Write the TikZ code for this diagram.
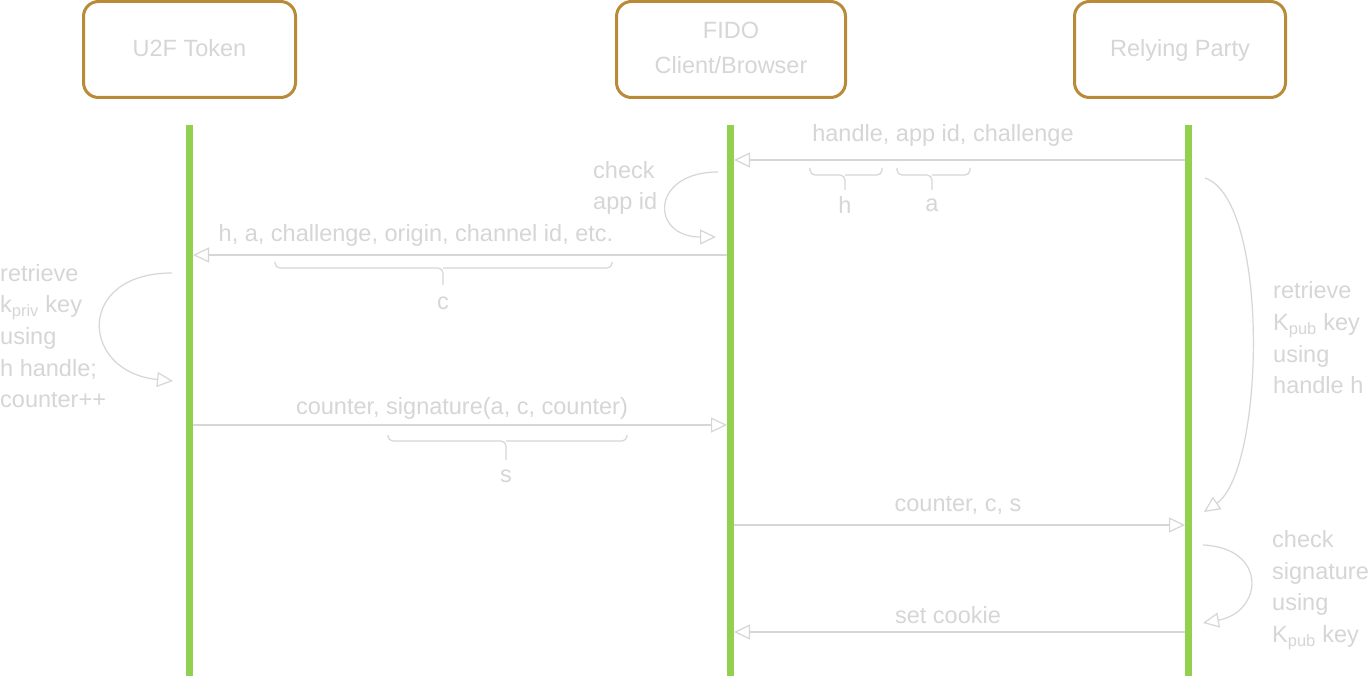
\documentclass[tikz,border=0pt]{standalone}
\usepackage{fontspec}
\setmainfont{Liberation Sans}
\usetikzlibrary{arrows.meta}
\definecolor{gold}{RGB}{185,139,56}
\definecolor{life}{RGB}{146,208,80}
\colorlet{ink}{black!16}
\begin{document}
\begin{tikzpicture}[x=1pt,y=-1pt,
  actor/.style={draw=gold, line width=3pt, rounded corners=15pt, fill=white, minimum height=96pt, align=center, font=\fontsize{23.5}{35}\selectfont, text=ink, inner sep=0pt, text depth=3pt},
  lifeline/.style={draw=life, line width=6.5pt},
  msg/.style={draw=ink, line width=1.2pt, -{Triangle[open, length=16pt, width=15pt, fill=white]}},
  lbl/.style={text=ink, font=\fontsize{23.5}{31.7}\selectfont, inner sep=0pt},
  brc/.style={draw=ink, line width=1.2pt, rounded corners=5pt}
]
\useasboundingbox[fill=white] (0,0) rectangle (1368,676);

% actors
\node[actor, minimum width=212pt] (u2f) at (189.5,49.5) {U2F Token};
\node[actor, minimum width=229pt] (fido) at (731,49.5) {FIDO\\Client/Browser};
\node[actor, minimum width=211pt] (rp) at (1180,49.5) {Relying Party};

% lifelines
\coordinate (ut) at (189.5,125); \coordinate (ub0) at (189.5,676);
\coordinate (ft) at (730.5,125); \coordinate (fb0) at (730.5,676);
\coordinate (rt) at (1188.5,125); \coordinate (rb0) at (1188.5,676);
\draw[lifeline] (ut) -- (ub0);
\draw[lifeline] (ft) -- (fb0);
\draw[lifeline] (rt) -- (rb0);

% message 1
\coordinate (r1) at (1185,160); \coordinate (f1) at (734,160);
\draw[msg] (r1) -- (f1);
\node[lbl] (m1) at (943,135) {handle, app id, challenge};
\draw[brc] (810,168) |- (845,175) -- (845,190);
\draw[brc] (882,168) |- (845,175);
\node[lbl] (h) at (845,205) {h};
\draw[brc] (897,168) |- (932,175) -- (932,190);
\draw[brc] (970,168) |- (932,175);
\node[lbl] (a) at (932,205) {a};

% check app id loop
\coordinate (fa) at (718,172); \coordinate (fb) at (716,237);
\draw[msg] (fa) .. controls (650,172) and (650,237) .. (fb);
\node[lbl, align=left, anchor=west] (fl) at (593,188) {check\\app id};

% message 3
\coordinate (f3) at (727,255); \coordinate (u3) at (193,255);
\draw[msg] (f3) -- (u3);
\node[lbl] (m3) at (416,235) {h, a, challenge, origin, channel id, etc.};
\draw[brc] (275,262) |- (443,268) -- (443,285);
\draw[brc] (612,262) |- (443,268);
\node[lbl] (c) at (443,303) {c};

% retrieve loop at token
\coordinate (ua) at (172,273); \coordinate (ub) at (173,381);
\draw[msg] (ua) .. controls (75,273) and (80,372) .. (ub);
\node[lbl, align=left, anchor=west] (ul) at (0,336) {retrieve\\k\textsubscript{priv} key\\using\\h handle;\\counter++};

% message 5
\coordinate (u5) at (193,425); \coordinate (f5) at (727,425);
\draw[msg] (u5) -- (f5);
\node[lbl] (m5) at (462,408) {counter, signature(a, c, counter)};
\draw[brc] (388,435) |- (506,441) -- (506,460);
\draw[brc] (627,435) |- (506,441);
\node[lbl] (s) at (506,476) {s};

% retrieve loop at RP
\coordinate (ra) at (1205,178); \coordinate (rb) at (1204,512);
\draw[msg] (ra) .. controls (1270,200) and (1265,470) .. (rb);
\node[lbl, align=left, anchor=west] (rl1) at (1273,338) {retrieve\\K\textsubscript{pub} key\\using\\handle h};

% message 7
\coordinate (f7) at (734,525); \coordinate (r7) at (1185,525);
\draw[msg] (f7) -- (r7);
\node[lbl] (m7) at (958,505) {counter, c, s};

% check signature loop
\coordinate (rc) at (1203,545); \coordinate (rd) at (1203,623);
\draw[msg] (rc) .. controls (1268,548) and (1263,612) .. (rd);
\node[lbl, align=left, anchor=west] (rl2) at (1272,590) {check\\signature\\using\\K\textsubscript{pub} key};

% message 9
\coordinate (r9) at (1185,632); \coordinate (f9) at (734,632);
\draw[msg] (r9) -- (f9);
\node[lbl] (m9) at (948,615) {set cookie};
\end{tikzpicture}
\end{document}
